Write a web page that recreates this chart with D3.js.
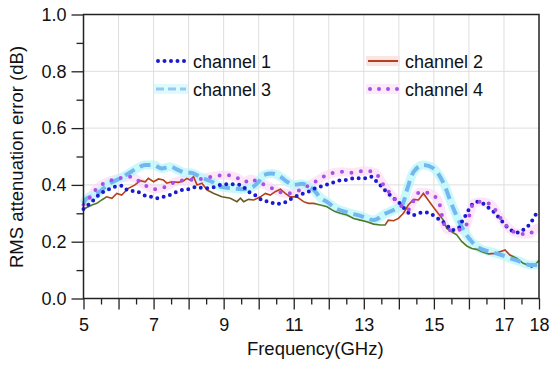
<!DOCTYPE html>
<html>
<head>
<meta charset="utf-8">
<script src="https://cdn.jsdelivr.net/npm/d3@7"></script>
<style>
  body { margin: 0; background: #fff; }
  svg { font-family: "Liberation Sans", Arial, Helvetica, sans-serif; }
  .axis text { font-size: 18px; fill: #111; }
  .axis path { display: none; }
  .axis line { stroke: #222; stroke-width: 1.3; }
</style>
</head>
<body>
<svg class="graph" width="550" height="367"></svg>
<script>
// [GHz, dB]
var ch1 = [[5.0,0.315],[5.07,0.323],[5.19,0.335],[5.43,0.364],[5.57,0.376],[5.76,0.386],[5.9,0.394],[6.09,0.397],[6.28,0.38],[6.52,0.377],[6.76,0.362],[6.95,0.358],[7.09,0.353],[7.28,0.358],[7.42,0.362],[7.61,0.373],[7.76,0.38],[7.9,0.385],[8.04,0.385],[8.2,0.393],[8.48,0.388],[8.72,0.392],[8.9,0.4],[9.1,0.402],[9.28,0.402],[9.48,0.4],[9.71,0.376],[9.9,0.364],[10.14,0.344],[10.33,0.341],[10.47,0.333],[10.66,0.335],[10.8,0.341],[10.95,0.353],[11.09,0.361],[11.28,0.37],[11.42,0.376],[11.61,0.388],[11.85,0.397],[12.14,0.409],[12.37,0.417],[12.55,0.418],[12.71,0.423],[12.88,0.423],[13.09,0.423],[13.23,0.429],[13.37,0.411],[13.51,0.394],[13.66,0.374],[13.89,0.349],[14.08,0.329],[14.23,0.306],[14.42,0.294],[14.56,0.3],[14.75,0.303],[14.89,0.3],[15.03,0.288],[15.18,0.276],[15.37,0.259],[15.51,0.241],[15.7,0.247],[15.8,0.27],[15.94,0.3],[16.08,0.329],[16.22,0.341],[16.37,0.337],[16.51,0.323],[16.65,0.312],[16.79,0.294],[16.93,0.274],[17.08,0.253],[17.22,0.239],[17.41,0.232],[17.6,0.247],[17.74,0.262],[17.93,0.3],[18.0,0.31]];

var ch2 = [[5.0,0.315],[5.05,0.318],[5.24,0.329],[5.38,0.335],[5.52,0.347],[5.66,0.358],[5.81,0.353],[5.95,0.37],[6.09,0.364],[6.28,0.388],[6.47,0.4],[6.62,0.415],[6.76,0.411],[6.85,0.423],[7.0,0.411],[7.14,0.421],[7.28,0.417],[7.38,0.406],[7.52,0.411],[7.71,0.409],[7.85,0.414],[7.95,0.423],[8.04,0.417],[8.14,0.429],[8.24,0.4],[8.38,0.406],[8.53,0.382],[8.72,0.37],[8.95,0.358],[9.19,0.353],[9.38,0.341],[9.48,0.353],[9.57,0.341],[9.71,0.349],[9.86,0.347],[10.05,0.358],[10.19,0.37],[10.33,0.364],[10.47,0.376],[10.62,0.385],[10.76,0.37],[10.9,0.358],[11.09,0.358],[11.28,0.341],[11.42,0.335],[11.57,0.335],[11.76,0.329],[11.95,0.323],[12.09,0.312],[12.18,0.306],[12.33,0.3],[12.52,0.294],[12.71,0.282],[12.9,0.276],[13.09,0.27],[13.28,0.262],[13.47,0.259],[13.61,0.259],[13.7,0.276],[13.85,0.274],[13.99,0.282],[14.13,0.3],[14.27,0.329],[14.42,0.349],[14.56,0.347],[14.7,0.37],[14.8,0.353],[14.94,0.329],[15.08,0.306],[15.27,0.276],[15.37,0.247],[15.51,0.235],[15.65,0.224],[15.8,0.2],[15.94,0.185],[16.08,0.176],[16.22,0.173],[16.37,0.165],[16.56,0.157],[16.75,0.159],[16.89,0.165],[17.03,0.171],[17.17,0.153],[17.36,0.142],[17.55,0.124],[17.69,0.118],[17.79,0.11],[17.88,0.118],[18.0,0.135]];

var ch3 = [[5.0,0.335],[5.1,0.353],[5.33,0.364],[5.52,0.382],[5.76,0.406],[6.05,0.423],[6.28,0.44],[6.52,0.458],[6.76,0.47],[7.0,0.47],[7.23,0.458],[7.47,0.464],[7.71,0.452],[7.9,0.443],[8.07,0.443],[8.34,0.427],[8.67,0.411],[8.95,0.392],[9.24,0.388],[9.52,0.385],[9.81,0.392],[10.0,0.411],[10.14,0.435],[10.38,0.44],[10.62,0.429],[10.81,0.411],[11.0,0.4],[11.23,0.404],[11.42,0.395],[11.57,0.382],[11.76,0.355],[11.95,0.34],[12.2,0.318],[12.54,0.303],[12.9,0.291],[13.28,0.276],[13.6,0.298],[13.9,0.315],[14.1,0.33],[14.25,0.39],[14.42,0.446],[14.7,0.47],[14.99,0.458],[15.17,0.43],[15.32,0.394],[15.46,0.347],[15.65,0.29],[15.82,0.247],[16.08,0.2],[16.32,0.176],[16.6,0.165],[16.89,0.155],[17.17,0.142],[17.46,0.13],[17.74,0.118],[18.0,0.118]];

var ch4 = [[5.0,0.33],[5.08,0.34],[5.36,0.385],[5.75,0.414],[6.0,0.423],[6.37,0.429],[6.62,0.41],[7.03,0.385],[7.27,0.39],[7.7,0.414],[7.98,0.417],[8.3,0.42],[8.7,0.43],[9.08,0.435],[9.35,0.427],[9.6,0.41],[9.79,0.421],[10.0,0.406],[10.2,0.4],[10.5,0.38],[10.8,0.37],[11.0,0.373],[11.3,0.39],[11.61,0.411],[11.95,0.435],[12.37,0.446],[12.66,0.443],[13.04,0.45],[13.32,0.443],[13.56,0.4],[13.75,0.37],[14.0,0.335],[14.25,0.31],[14.4,0.34],[14.6,0.375],[14.89,0.37],[15.15,0.336],[15.27,0.27],[15.4,0.241],[15.6,0.24],[15.89,0.25],[16.0,0.288],[16.13,0.335],[16.32,0.341],[16.65,0.329],[16.84,0.294],[17.08,0.255],[17.31,0.233],[17.69,0.226],[17.93,0.247],[18.0,0.25]];

var xLabels = [5, 7, 9, 11, 13, 15, 17, 18];
var yLabels = [0, 0.2, 0.4, 0.6, 0.8, 1.0];
var names = ["channel 1", "channel 2", "channel 3", "channel 4"];

var svg = d3.select('svg.graph');

var x = d3.scaleLinear().domain([5, 18]).range([83.5, 539]);
var y = d3.scaleLinear().domain([0, 1]).range([298.5, 14.5]);

// grid
var grid = svg.append("g").attr("stroke", "#dedede").attr("stroke-width", 1);
grid.selectAll("line.v")
  .data(d3.range(6, 18))
  .enter().append("line")
    .attr("x1", function(d) { return x(d); })
    .attr("x2", function(d) { return x(d); })
    .attr("y1", y(1)).attr("y2", y(0));
grid.selectAll("line.h")
  .data([0.2, 0.4, 0.6, 0.8])
  .enter().append("line")
    .attr("x1", x(5)).attr("x2", x(18))
    .attr("y1", function(d) { return y(d); })
    .attr("y2", function(d) { return y(d); });

var line = d3.line()
  .x(function(d) { return x(d[0]); })
  .y(function(d) { return y(d[1]); })
  .curve(d3.curveMonotoneX);

// glow under ch3 / ch4
svg.append("path").datum(ch4)
  .attr("d", line).attr("fill", "none")
  .attr("stroke", "#fcd6f3").attr("stroke-width", 9).attr("opacity", 0.6);
svg.append("path").datum(ch3)
  .attr("d", line).attr("fill", "none")
  .attr("stroke", "#b4f6fb").attr("stroke-width", 9).attr("opacity", 0.7);

// ch2 colour shifts between red-brown and green
var grad = svg.append("defs").append("linearGradient")
  .attr("id", "ch2grad")
  .attr("gradientUnits", "userSpaceOnUse")
  .attr("x1", x(5)).attr("x2", x(18)).attr("y1", 0).attr("y2", 0);
var stops = [[5, "#4f7a2a"], [5.6, "#4f7a2a"], [5.6, "#b4401c"], [8.6, "#b4401c"], [8.6, "#6d5a25"], [9.8, "#6d5a25"],
  [9.8, "#b4401c"], [11.6, "#b4401c"], [11.6, "#4f7a2a"], [13.6, "#4f7a2a"], [13.6, "#b4401c"], [15.2, "#b4401c"],
  [15.2, "#4f7a2a"], [16.6, "#4f7a2a"], [16.6, "#b4401c"], [17.2, "#b4401c"], [17.2, "#4f7a2a"], [18, "#4f7a2a"]];
grad.selectAll("stop").data(stops).enter().append("stop")
  .attr("offset", function(d) { return (d[0] - 5) / 13; })
  .attr("stop-color", function(d) { return d[1]; });

svg.append("path").datum(ch2)
  .attr("d", d3.line().x(function(d) { return x(d[0]); }).y(function(d) { return y(d[1]); }))
  .attr("fill", "none").attr("stroke", "url(#ch2grad)").attr("stroke-width", 1.6);

svg.append("path").datum(ch3)
  .attr("d", line).attr("fill", "none")
  .attr("stroke", "#74b6f0").attr("stroke-width", 4)
  .attr("stroke-dasharray", "11,6");

svg.append("path").datum(ch1)
  .attr("d", line).attr("fill", "none")
  .attr("stroke", "#1a1ad0").attr("stroke-width", 4)
  .attr("stroke-linecap", "round")
  .attr("stroke-dasharray", "0,6.5");

svg.append("path").datum(ch4)
  .attr("d", line).attr("fill", "none")
  .attr("stroke", "#a650e8").attr("stroke-width", 4)
  .attr("stroke-linecap", "round")
  .attr("stroke-dasharray", "0,9.5");

// axes
var xMinor = d3.axisBottom(x).tickValues(d3.range(5.5, 18, 1)).tickSize(6).tickFormat("");
var xMajor = d3.axisBottom(x).tickValues(d3.range(5, 19)).tickSize(11).tickPadding(9)
  .tickFormat(function(d) { return xLabels.indexOf(d) >= 0 ? d : ""; });
var yMinor = d3.axisLeft(y).tickValues([0.1, 0.3, 0.5, 0.7, 0.9]).tickSize(7).tickFormat("");
var yMajor = d3.axisLeft(y).tickValues(yLabels).tickSize(12).tickPadding(5)
  .tickFormat(d3.format(".1f"));

svg.append("g").attr("class", "axis").attr("transform", "translate(0," + y(0) + ")").call(xMinor);
svg.append("g").attr("class", "axis").attr("transform", "translate(0," + y(0) + ")").call(xMajor);
svg.append("g").attr("class", "axis").attr("transform", "translate(" + x(5) + ",0)").call(yMinor);
svg.append("g").attr("class", "axis").attr("transform", "translate(" + x(5) + ",0)").call(yMajor);
svg.selectAll(".axis text").attr("font-family", null);

svg.append("rect")
  .attr("x", x(5)).attr("y", y(1))
  .attr("width", x(18) - x(5)).attr("height", y(0) - y(1))
  .attr("fill", "none").attr("stroke", "#222").attr("stroke-width", 1.5);

// labels
svg.append("text")
  .attr("x", (x(5) + x(18)) / 2 + 4).attr("y", 355)
  .attr("text-anchor", "middle").attr("font-size", 18.5).attr("fill", "#111")
  .text("Frequency(GHz)");
svg.append("text")
  .attr("transform", "translate(23," + 157 + ") rotate(-90)")
  .attr("text-anchor", "middle").attr("font-size", 18.5).attr("fill", "#111")
  .text("RMS attenuation error (dB)");

// legend
var leg = [
  {name: names[0], lx: 156, ly: 61, color: "#1a1ad0", dash: "0,6.5", cap: "round", w: 4, glow: null},
  {name: names[1], lx: 368, ly: 61, color: "#b4401c", dash: null, cap: "butt", w: 2, glow: "#fbe4e4"},
  {name: names[2], lx: 156, ly: 89, color: "#9cc6f2", dash: "8,4", cap: "butt", w: 3, glow: "#dcfbfd"},
  {name: names[3], lx: 368, ly: 89, color: "#a650e8", dash: "0,9", cap: "round", w: 4, glow: "#fdeaf9"}
];
var lg = svg.append("g").selectAll("g").data(leg).enter().append("g");
lg.filter(function(d) { return d.glow; }).append("rect")
  .attr("x", function(d) { return d.lx - 2; })
  .attr("y", function(d) { return d.ly - 5; })
  .attr("width", 34).attr("height", 10)
  .attr("fill", function(d) { return d.glow; });
lg.append("line")
  .attr("x1", function(d) { return d.lx + (d.cap === "round" ? 2 : 0); })
  .attr("x2", function(d) { return d.lx + 30; })
  .attr("y1", function(d) { return d.ly; })
  .attr("y2", function(d) { return d.ly; })
  .attr("stroke", function(d) { return d.color; })
  .attr("stroke-width", function(d) { return d.w; })
  .attr("stroke-linecap", function(d) { return d.cap; })
  .attr("stroke-dasharray", function(d) { return d.dash; });
lg.append("text")
  .attr("x", function(d) { return d.lx + 37; })
  .attr("y", function(d) { return d.ly + 6.5; })
  .attr("font-size", 18).attr("fill", "#111")
  .text(function(d) { return d.name; });
</script>
</body>
</html>
